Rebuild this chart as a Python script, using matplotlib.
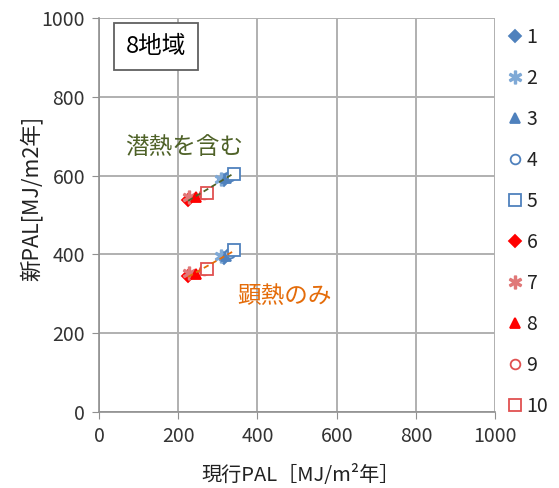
import numpy as np
import matplotlib
matplotlib.use("Agg")
import matplotlib.pyplot as plt

plt.rcParams['font.family'] = ['Noto Sans CJK JP', 'DejaVu Sans']

# Series 1-10: current PAL (x) and new PAL with latent heat / sensible heat only (y)
series = ["1", "2", "3", "4", "5", "6", "7", "8", "9", "10"]
current_pal = [315, 308, 320, 330, 340, 225, 228, 245, 266, 272]
new_pal_latent = [590, 592, 595, 600, 605, 537, 546, 545, 554, 557]
new_pal_sensible = [390, 396, 395, 404, 412, 345, 352, 350, 361, 364]

colors = ["#4f81bd", "#7fa9d6", "#4f81bd", "#4f81bd", "#4f81bd",
          "#ff0000", "#e07878", "#ff0000", "#e05050", "#e05050"]
markers = ["D", "$\u2217$", "^", "o", "s", "D", "$\u2217$", "^", "o", "s"]
filled = [True, True, True, False, False, True, True, True, False, False]
sizes = [6, 9, 7, 7, 8, 6, 9, 7, 7, 8]

fig = plt.figure(figsize=(5.59, 4.88), dpi=100)
ax = fig.add_axes([0.177, 0.156, 0.709, 0.807])

grid_c = "#b0b0b0"
ax.set_xlim(0, 1000)
ax.set_ylim(0, 1000)
ax.set_xticks(np.arange(0, 1001, 200))
ax.set_yticks(np.arange(0, 1001, 200))
ax.grid(True, color=grid_c, linewidth=1.4)
ax.set_axisbelow(True)
for s in ["top", "right"]:
    ax.spines[s].set_visible(False)
for s in ["left", "bottom"]:
    ax.spines[s].set_color("#909090")
    ax.spines[s].set_linewidth(1.2)
ax.tick_params(axis="both", direction="out", length=5, color="#909090",
               labelsize=14, labelcolor="#333333", pad=5)

handles = []
for i, name in enumerate(series):
    c = colors[i]
    kw = dict(marker=markers[i], markersize=sizes[i], linestyle="none",
              markeredgecolor=c, markeredgewidth=1.3,
              markerfacecolor=c if filled[i] else "white")
    h, = ax.plot([current_pal[i]], [new_pal_latent[i]], label=name, **kw)
    ax.plot([current_pal[i]], [new_pal_sensible[i]], **kw)
    handles.append(h)

# Linear trend lines for each group
x = np.array(current_pal, dtype=float)
xs = np.array([x.min(), x.max()])
for yv, lc in [(new_pal_latent, "#4f6228"), (new_pal_sensible, "#e46c0a")]:
    k, b = np.polyfit(x, np.array(yv, dtype=float), 1)
    ax.plot(xs, k * xs + b, linestyle=(0, (3, 2)), color=lc, linewidth=1.3, zorder=3)

ax.text(215, 672, "潜熱を含む", color="#4f6228", fontsize=17, ha="center", va="center")
ax.text(468, 292, "顕熱のみ", color="#e46c0a", fontsize=17, ha="center", va="center")
ax.text(143, 927, "8地域", fontsize=17, ha="center", va="center", color="black",
        bbox=dict(boxstyle="square,pad=0.5", facecolor="white", edgecolor="#606060",
                  linewidth=1.3))

fig.text(301 / 559, 1 - 476 / 488, "現行PAL［MJ/m²年］", fontsize=14.5,
         color="#222222", ha="center", va="center")
fig.text(31 / 559, 1 - 198 / 488, "新PAL[MJ/m2年]", fontsize=15.5,
         color="#222222", ha="center", va="center", rotation=90)

fig.legend(handles=handles, loc="upper left", bbox_to_anchor=(0.888, 0.965),
           frameon=False, fontsize=14, labelspacing=1.03, handletextpad=0.15,
           handlelength=0.9, borderpad=0, labelcolor="#222222")

fig.savefig("out.png", dpi=100)
